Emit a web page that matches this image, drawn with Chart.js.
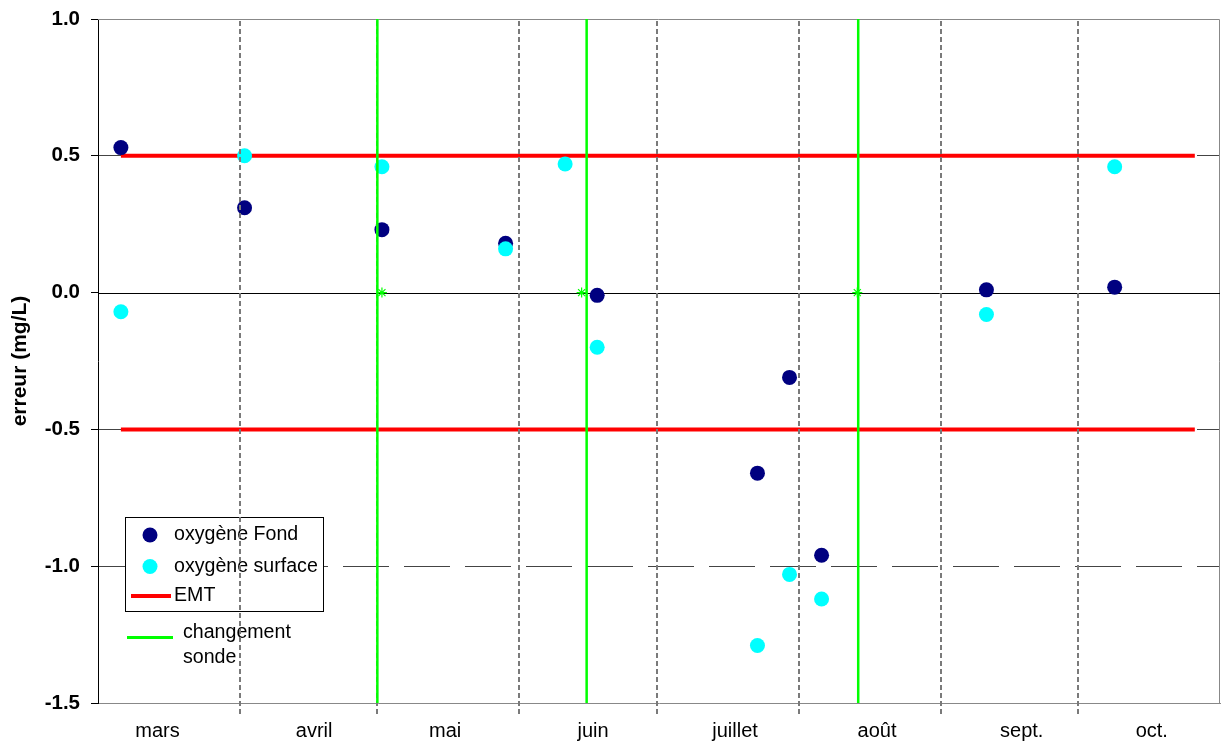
<!DOCTYPE html>
<html>
<head>
<meta charset="utf-8">
<script src="https://cdn.jsdelivr.net/npm/chart.js@4.4.0/dist/chart.umd.min.js"></script>
<style>
  html, body { margin: 0; padding: 0; background: #fff; overflow: hidden; }
  #wrap { width: 1224px; height: 742px; }
  canvas { display: block; }
</style>
</head>
<body>
<div id="wrap"><canvas id="c" width="1224" height="742"></canvas></div>
<script>
// Jours comptés depuis le 1er mars
const joursMesure = [5, 32, 62, 89, 102, 109, 144, 151, 158, 194, 222];
const oxygeneFond = [0.53, 0.31, 0.23, 0.18, null, -0.01, -0.66, -0.31, -0.96, 0.01, 0.02];
const oxygeneSurface = [-0.07, 0.50, 0.46, 0.16, 0.47, -0.20, -1.29, -1.03, -1.12, -0.08, 0.46];

// Erreur maximale tolérée
const emtNiveaux = [0.5, -0.5];
const emtJours = [5, 239.5];

// Changements de sonde
const changementSonde = [61, 106.7, 166];
const changementSondeRepere = [62, 105.6, 165.8];

// Axe des temps
const moisNoms = ['mars', 'avril', 'mai', 'juin', 'juillet', 'août', 'sept.', 'oct.'];
const moisDebut = [0, 31, 61, 92, 122, 153, 184, 214, 245];
const moisEtiquette = [13, 47.2, 75.8, 108.1, 139.1, 170.1, 201.7, 230.1];
const yGraduations = [-1.5, -1.0, -0.5, 0, 0.5, 1.0];

Chart.defaults.font.family = '"Liberation Sans", Arial, sans-serif';
Chart.defaults.color = '#000';

const pts = vals => joursMesure.map((x, i) => ({ x, y: vals[i] })).filter(p => p.y !== null);

const emtData = lvl => emtJours.map(x => ({ x, y: lvl }));

const sondeLignes = changementSonde.flatMap(x => [
  { x, y: yGraduations[0] },
  { x, y: yGraduations[yGraduations.length - 1] },
  { x, y: null }
]);

const COL_FOND = '#000080';
const COL_SURF = '#00FFFF';
const COL_EMT = '#FF0000';
const COL_SONDE = '#00FF00';

// Ligne du zéro et cadre de la zone de tracé
const cadrePlugin = {
  id: 'cadre',
  beforeDatasetsDraw(chart) {
    const { ctx, chartArea: a, scales } = chart;
    ctx.save();
    ctx.strokeStyle = '#888';
    ctx.lineWidth = 1;
    ctx.beginPath();
    ctx.moveTo(a.left, a.top + 0.5);
    ctx.lineTo(a.right - 0.5, a.top + 0.5);
    ctx.lineTo(a.right - 0.5, a.bottom);
    ctx.stroke();
    const y0 = Math.round(scales.y.getPixelForValue(0)) + 0.5;
    ctx.strokeStyle = '#000';
    ctx.beginPath();
    ctx.moveTo(a.left, y0);
    ctx.lineTo(a.right, y0);
    ctx.stroke();
    ctx.restore();
  }
};

// Légende et séparations mensuelles, tracées après les points de mesure
// (index 1) et avant les lignes de changement de sonde
const legendePlugin = {
  id: 'legende',
  afterDatasetDraw(chart, args) {
    if (args.index !== 1) return;
    const { ctx, chartArea: a, scales } = chart;
    const ds = chart.data.datasets;
    ctx.save();
    ctx.fillStyle = '#fff';
    ctx.fillRect(125.5, 517.5, 198, 94);
    ctx.strokeStyle = '#000';
    ctx.lineWidth = 1;
    ctx.strokeRect(125.5, 517.5, 198, 94);

    ctx.font = '19.6px "Liberation Sans", Arial, sans-serif';
    ctx.textBaseline = 'middle';
    ctx.textAlign = 'left';

    ctx.fillStyle = ds[0].backgroundColor;
    ctx.beginPath(); ctx.arc(150, 535, 7.5, 0, Math.PI * 2); ctx.fill();
    ctx.fillStyle = '#000';
    ctx.fillText(ds[0].label, 174, 535);

    ctx.fillStyle = ds[1].backgroundColor;
    ctx.beginPath(); ctx.arc(150, 566.5, 7.5, 0, Math.PI * 2); ctx.fill();
    ctx.fillStyle = '#000';
    ctx.fillText(ds[1].label, 174, 566.5);

    ctx.strokeStyle = ds[2].borderColor;
    ctx.lineWidth = 4;
    ctx.beginPath(); ctx.moveTo(131, 596); ctx.lineTo(171, 596); ctx.stroke();
    ctx.fillStyle = '#000';
    ctx.fillText(ds[2].label, 174, 596);

    ctx.strokeStyle = ds[4].borderColor;
    ctx.lineWidth = 3;
    ctx.beginPath(); ctx.moveTo(127, 637.5); ctx.lineTo(173, 637.5); ctx.stroke();
    ctx.fillStyle = '#000';
    ctx.fillText('changement', 183, 633);
    ctx.fillText('sonde', 183, 658);

    // séparations entre les mois
    ctx.strokeStyle = '#7a7a7a';
    ctx.lineWidth = 2;
    ctx.setLineDash([5, 3]);
    moisDebut.slice(1, -1).forEach(d => {
      const px = Math.round(scales.x.getPixelForValue(d));
      ctx.beginPath();
      ctx.moveTo(px, a.top + 2);
      ctx.lineTo(px, a.bottom + 12);
      ctx.stroke();
    });
    ctx.restore();
  }
};

new Chart(document.getElementById('c'), {
  type: 'scatter',
  data: {
    datasets: [
      {
        label: 'oxygène Fond',
        data: pts(oxygeneFond),
        backgroundColor: COL_FOND,
        borderColor: COL_FOND,
        borderWidth: 0,
        pointRadius: 7.5,
        order: 3
      },
      {
        label: 'oxygène surface',
        data: pts(oxygeneSurface),
        backgroundColor: COL_SURF,
        borderColor: COL_SURF,
        borderWidth: 0,
        pointRadius: 7.5,
        order: 2
      },
      {
        label: 'EMT',
        data: emtData(emtNiveaux[0]),
        showLine: true,
        borderColor: COL_EMT,
        backgroundColor: COL_EMT,
        borderWidth: 4,
        pointRadius: 0,
        order: 5
      },
      {
        label: 'EMT',
        data: emtData(emtNiveaux[1]),
        showLine: true,
        borderColor: COL_EMT,
        backgroundColor: COL_EMT,
        borderWidth: 4,
        pointRadius: 0,
        order: 5
      },
      {
        label: 'changement sonde',
        data: sondeLignes,
        showLine: true,
        spanGaps: false,
        borderColor: COL_SONDE,
        backgroundColor: COL_SONDE,
        borderWidth: 2.5,
        pointRadius: 0,
        order: 1
      },
      {
        label: 'changement sonde',
        data: changementSondeRepere.map(x => ({ x, y: 0 })),
        pointStyle: 'star',
        pointRadius: 5,
        borderColor: COL_SONDE,
        backgroundColor: COL_SONDE,
        borderWidth: 1.2,
        order: 0
      }
    ]
  },
  options: {
    responsive: false,
    animation: false,
    layout: { autoPadding: false, padding: { top: 19, right: 4, left: 0, bottom: 0 } },
    plugins: {
      legend: { display: false },
      tooltip: { enabled: false }
    },
    scales: {
      x: {
        type: 'linear',
        min: moisDebut[0],
        max: moisDebut[moisDebut.length - 1],
        afterBuildTicks: s => { s.ticks = moisEtiquette.map(v => ({ value: v })); },
        afterFit: s => { s.height = 39; s.paddingLeft = 0; s.paddingRight = 0; },
        grid: { display: false, drawTicks: false },
        border: { display: true, color: '#888', width: 1 },
        ticks: {
          autoSkip: false,
          maxRotation: 0,
          padding: 16,
          color: '#000',
          font: { size: 20 },
          callback: (v, i) => moisNoms[i]
        }
      },
      y: {
        min: yGraduations[0],
        max: yGraduations[yGraduations.length - 1],
        afterBuildTicks: s => { s.ticks = yGraduations.map(v => ({ value: v })); },
        afterFit: s => { s.width = 98; s.paddingTop = 0; s.paddingBottom = 0; },
        grid: {
          color: c => (c.tick && [0, 1, -1.5].includes(c.tick.value)) ? 'rgba(0,0,0,0)' : '#444',
          tickColor: '#000',
          tickLength: 7,
          tickBorderDash: [1, 0],
          lineWidth: 1
        },
        border: { display: true, color: '#000', width: 1, dash: [46, 15] },
        ticks: {
          padding: 11,
          color: '#000',
          font: { size: 20.5, weight: 'bold' },
          callback: v => v.toFixed(1)
        },
        title: {
          display: true,
          text: 'erreur (mg/L)',
          color: '#000',
          font: { size: 21, weight: 'bold' },
          padding: { top: 8, bottom: 0 }
        }
      }
    }
  },
  plugins: [cadrePlugin, legendePlugin]
});
</script>
</body>
</html>
